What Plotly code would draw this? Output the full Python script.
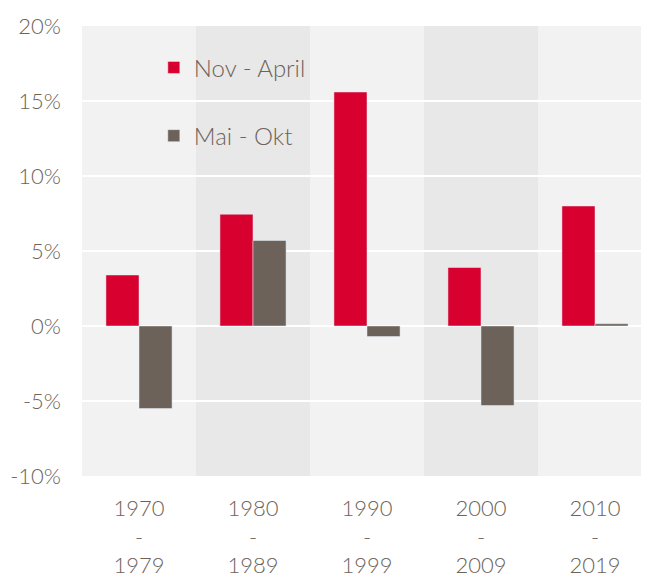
import plotly.graph_objects as go

categories = ["1970<br>-<br>1979", "1980<br>-<br>1989", "1990<br>-<br>1999", "2000<br>-<br>2009", "2010<br>-<br>2019"]
nov_april = [3.4, 7.45, 15.6, 3.9, 8.0]
mai_okt = [-5.5, 5.7, -0.7, -5.3, 0.15]
series_names = ["Nov - April", "Mai - Okt"]
y_ticks = [-10, -5, 0, 5, 10, 15, 20]
y_tick_labels = ["-10%", "-5%", "0%", "5%", "10%", "15%", "20%"]

text_color = "#6d635a"
red = "#d7002f"
taupe = "#6c6259"
band_light = "#f2f2f2"
band_dark = "#e8e8e8"

fig = go.Figure()
fig.add_trace(go.Bar(x=categories, y=nov_april, name=series_names[0], marker_color=red, legendgroup="a"))
fig.add_trace(go.Bar(x=categories, y=mai_okt, name=series_names[1], marker_color=taupe, legendgroup="b"))

shapes = []
for i in range(len(categories)):
    shapes.append(dict(type="rect", xref="x", yref="y", x0=i - 0.5, x1=i + 0.5, y0=-10, y1=20,
                       fillcolor=band_dark if i % 2 == 1 else band_light, line_width=0, layer="below"))

fig.update_layout(
    width=649, height=577,
    margin=dict(l=74, r=5, t=18, b=109),
    paper_bgcolor="white", plot_bgcolor="white",
    font=dict(family="Lato", color=text_color, size=21, weight=300),
    barmode="group", bargap=0.42, bargroupgap=0,
    shapes=shapes,
    showlegend=True,
    legend=dict(x=0.126, y=0.957, xanchor="left", yanchor="top", bgcolor="rgba(0,0,0,0)",
                traceorder="grouped", tracegroupgap=34,
                font=dict(family="Lato", size=24, color=text_color, weight=300)),
    xaxis=dict(showgrid=False, zeroline=False, showline=False, ticks="", ticklabelstandoff=17,
               automargin=False,
               tickfont=dict(family="Lato", size=22, color=text_color, weight=300), range=[-0.5, 4.5]),
    yaxis=dict(range=[-10, 20], tickvals=y_ticks, ticktext=y_tick_labels, showgrid=True,
               gridcolor="white", gridwidth=2, zeroline=False, showline=False, ticks="",
               automargin=False,
               ticklabelstandoff=20, tickfont=dict(family="Lato", size=22, color=text_color, weight=300)),
)

fig.write_html("out.html")
